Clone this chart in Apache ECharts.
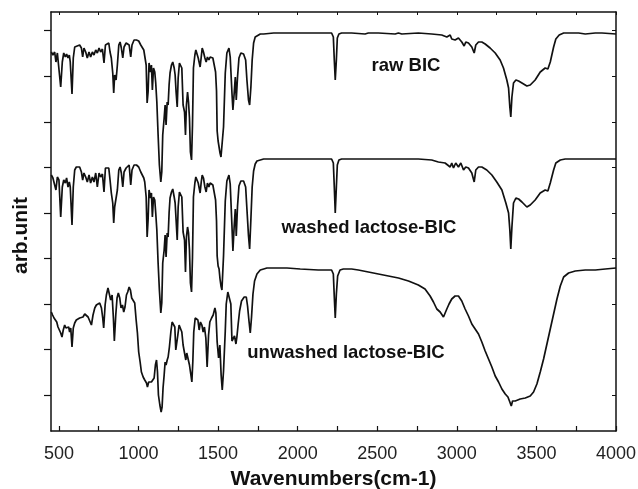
<!DOCTYPE html>
<html style="height: 100%">
<head>
    <meta charset="utf-8">
</head>
<body style="height: 100%; margin: 0; background: #fff">
<div id="container" style="width: 638px; height: 489px"></div>
<script type="text/javascript" src="https://cdn.jsdelivr.net/npm/echarts@6/dist/echarts.min.js"></script>
<script type="text/javascript">
    // wavenumber (cm-1), arb. intensity
    var rawBIC = [[452,379],[462,376],[473,379],[481,369],[490,378],[500,376],[511,344],[521,369],[530,378],[540,374],[548,377],[557,373],[565,376],[571,369],[582,337],[590,373],[599,384],[609,386],[630,386],[641,383],[649,374],[657,383],[668,379],[678,373],[689,379],[699,374],[710,379],[720,376],[731,381],[741,378],[752,383],[762,379],[773,382],[783,368],[792,386],[802,388],[813,388],[821,379],[829,373],[838,358],[844,338],[850,356],[859,351],[867,366],[876,386],[884,389],[892,383],[901,373],[909,384],[922,388],[930,389],[941,386],[951,374],[959,386],[972,391],[987,391],[1001,390],[1014,386],[1022,388],[1033,381],[1039,379],[1048,366],[1054,328],[1060,339],[1066,368],[1075,359],[1081,366],[1087,341],[1094,363],[1102,359],[1108,348],[1115,329],[1123,296],[1131,266],[1140,249],[1146,259],[1152,296],[1161,313],[1167,326],[1173,306],[1180,329],[1186,326],[1192,346],[1198,358],[1207,366],[1215,369],[1224,363],[1230,356],[1236,339],[1243,324],[1249,353],[1257,368],[1266,369],[1272,363],[1280,326],[1289,319],[1295,296],[1301,326],[1308,339],[1314,329],[1320,313],[1326,279],[1333,271],[1339,306],[1345,363],[1354,376],[1360,381],[1368,379],[1375,373],[1381,374],[1387,364],[1394,374],[1400,383],[1408,379],[1417,373],[1425,369],[1433,374],[1442,371],[1450,374],[1458,375],[1467,373],[1475,373],[1484,359],[1490,340],[1494,300],[1500,290],[1506,288],[1512,278],[1518,274],[1524,274],[1534,304],[1545,358],[1555,378],[1568,383],[1576,374],[1587,338],[1593,321],[1601,338],[1608,354],[1614,331],[1622,354],[1631,373],[1643,378],[1660,377],[1673,371],[1681,351],[1691,331],[1698,326],[1706,344],[1714,371],[1723,388],[1733,394],[1744,396],[1765,397],[1786,397],[1849,398],[1912,398],[1922,397],[1933,398],[1954,398],[2016,398],[2079,398],[2129,398],[2213,398],[2224,394],[2230,371],[2236,351],[2243,371],[2249,393],[2259,397],[2276,398],[2339,398],[2423,397],[2444,398],[2507,398],[2612,397],[2633,398],[2654,397],[2758,398],[2842,397],[2905,396],[2937,394],[2958,396],[2968,392],[2979,394],[2989,391],[3010,393],[3031,389],[3046,385],[3056,389],[3073,388],[3094,384],[3109,378],[3119,386],[3136,389],[3157,389],[3178,387],[3209,383],[3241,378],[3272,371],[3293,363],[3314,351],[3325,343],[3333,324],[3339,314],[3346,334],[3356,348],[3371,351],[3388,350],[3409,348],[3440,345],[3461,346],[3492,351],[3524,359],[3555,363],[3572,362],[3587,369],[3608,384],[3622,392],[3643,396],[3671,398],[3723,398],[3765,398],[3807,397],[3870,398],[3912,398],[4000,397]];

    var washedBIC = [[452,256],[462,253],[473,255],[481,241],[490,254],[500,251],[511,214],[521,244],[530,251],[540,248],[548,253],[557,244],[565,249],[571,244],[582,206],[590,244],[599,261],[609,264],[630,264],[641,259],[649,251],[657,258],[668,254],[678,249],[689,256],[699,248],[710,254],[720,249],[731,258],[741,244],[752,258],[762,254],[773,257],[783,239],[792,263],[802,265],[813,263],[821,251],[829,238],[838,228],[844,208],[850,224],[859,223],[867,241],[876,261],[884,264],[892,258],[901,244],[909,259],[922,263],[930,264],[941,266],[951,246],[959,261],[972,266],[987,266],[1001,264],[1014,259],[1022,261],[1033,253],[1039,249],[1048,234],[1054,194],[1060,211],[1066,241],[1075,233],[1081,238],[1087,214],[1094,234],[1102,231],[1108,218],[1115,201],[1123,168],[1131,141],[1140,118],[1146,128],[1152,168],[1161,181],[1167,196],[1173,174],[1180,198],[1186,194],[1192,218],[1198,233],[1207,239],[1215,242],[1224,234],[1230,228],[1236,211],[1243,191],[1249,224],[1257,239],[1266,241],[1272,234],[1280,199],[1289,191],[1295,159],[1301,194],[1308,204],[1314,198],[1320,181],[1326,148],[1333,139],[1339,174],[1345,234],[1354,248],[1360,254],[1368,254],[1375,248],[1381,249],[1387,238],[1394,249],[1400,256],[1408,253],[1417,244],[1425,239],[1433,248],[1442,244],[1450,248],[1458,249],[1467,246],[1475,246],[1484,231],[1490,210],[1494,175],[1500,165],[1506,162],[1512,152],[1518,145],[1524,141],[1534,175],[1545,230],[1555,250],[1568,256],[1576,247],[1587,205],[1593,180],[1601,205],[1608,222],[1614,195],[1622,225],[1631,245],[1643,250],[1660,250],[1673,244],[1681,222],[1691,195],[1698,182],[1706,212],[1714,244],[1723,260],[1733,267],[1744,270],[1765,271],[1786,272],[1849,272],[1912,272],[1922,270],[1933,272],[2016,272],[2129,272],[2213,272],[2224,268],[2230,244],[2236,218],[2243,244],[2249,266],[2259,271],[2276,272],[2381,272],[2549,272],[2758,272],[2842,271],[2884,269],[2926,268],[2958,264],[2968,268],[2979,263],[2993,268],[3010,264],[3025,268],[3042,261],[3056,264],[3073,263],[3094,258],[3109,249],[3119,261],[3136,264],[3157,264],[3188,261],[3220,256],[3251,249],[3283,241],[3308,228],[3325,218],[3333,201],[3339,182],[3346,204],[3356,228],[3371,233],[3388,232],[3409,229],[3440,224],[3461,226],[3492,231],[3524,238],[3555,241],[3572,240],[3587,248],[3608,261],[3622,268],[3650,271],[3681,272],[3765,272],[3849,272],[3912,272],[4000,272]];

    var unwashedBIC = [[452,119],[460,116],[469,113],[477,114],[486,109],[494,104],[502,106],[511,98],[519,94],[527,101],[536,106],[544,103],[553,101],[561,104],[567,99],[574,103],[582,84],[590,103],[599,108],[609,111],[620,113],[630,113],[641,112],[651,114],[662,117],[672,116],[683,114],[693,113],[704,106],[714,116],[725,123],[735,126],[746,124],[756,128],[767,123],[775,113],[781,103],[790,126],[798,136],[808,143],[819,141],[825,131],[834,136],[842,113],[848,90],[857,116],[865,133],[873,138],[882,133],[890,123],[899,126],[907,119],[915,124],[924,136],[932,139],[941,144],[949,141],[957,133],[968,131],[976,128],[985,111],[993,98],[1001,79],[1010,69],[1018,59],[1029,54],[1039,51],[1050,48],[1056,44],[1064,49],[1073,48],[1081,49],[1089,48],[1098,53],[1106,66],[1113,71],[1119,59],[1125,36],[1134,26],[1142,19],[1148,24],[1154,43],[1161,56],[1167,69],[1173,66],[1180,71],[1186,74],[1194,84],[1203,99],[1211,109],[1219,111],[1228,104],[1234,81],[1240,79],[1247,96],[1255,106],[1263,108],[1272,99],[1280,86],[1289,78],[1297,71],[1303,78],[1312,76],[1320,66],[1329,56],[1335,49],[1341,69],[1347,99],[1356,113],[1364,114],[1373,111],[1381,101],[1389,109],[1398,106],[1406,99],[1414,104],[1423,93],[1431,64],[1440,96],[1448,109],[1459,113],[1469,116],[1480,123],[1486,118],[1494,89],[1503,73],[1511,86],[1519,56],[1526,41],[1534,60],[1545,100],[1551,127],[1561,139],[1572,140],[1580,127],[1587,90],[1595,88],[1603,95],[1612,87],[1618,94],[1626,107],[1635,120],[1647,130],[1664,134],[1677,134],[1685,125],[1694,110],[1702,98],[1710,114],[1719,137],[1729,150],[1744,157],[1765,161],[1786,162],[1807,163],[1870,163],[1912,163],[1922,161],[1933,163],[2016,162],[2129,161],[2213,161],[2224,157],[2230,134],[2236,113],[2243,137],[2251,155],[2266,161],[2287,162],[2339,162],[2381,161],[2444,159],[2507,157],[2570,155],[2633,153],[2696,150],[2758,146],[2800,142],[2832,135],[2853,129],[2874,122],[2895,119],[2916,114],[2926,115],[2937,122],[2951,127],[2968,132],[2989,135],[3010,135],[3031,130],[3052,122],[3073,115],[3094,107],[3115,102],[3136,97],[3157,89],[3178,80],[3199,72],[3220,64],[3241,55],[3262,49],[3283,42],[3304,37],[3321,34],[3333,29],[3342,25],[3350,30],[3367,30],[3398,32],[3430,33],[3461,35],[3482,39],[3503,47],[3524,59],[3545,72],[3566,87],[3587,102],[3608,117],[3629,132],[3650,145],[3671,154],[3702,158],[3744,160],[3807,161],[3870,161],[3933,162],[4000,163]];

    var xTicks = [500, 750, 1000, 1250, 1500, 1750, 2000, 2250, 2500, 2750, 3000, 3250, 3500, 3750, 4000];
    var xLabels = [500, 1000, 1500, 2000, 2500, 3000, 3500, 4000];
    var yTicks = [36, 82, 127, 173, 218, 264, 309, 355, 401];

    var font = '"Liberation Sans", Arial, sans-serif';
    var dom = document.getElementById("container");
    var myChart = echarts.init(dom);

    function line(name, data) {
        return {
            name: name,
            type: 'line',
            data: data,
            showSymbol: false,
            symbol: 'none',
            lineStyle: {color: '#111', width: 1.7},
            silent: true
        };
    }

    var option = {
        animation: false,
        backgroundColor: '#fff',
        grid: {left: 51, right: 22, top: 12, bottom: 58, outerBoundsMode: 'none', containLabel: false},
        xAxis: [{
            type: 'value',
            min: 450,
            max: 4000,
            position: 'bottom',
            name: 'Wavenumbers(cm-1)',
            nameLocation: 'middle',
            nameGap: 38,
            nameTextStyle: {fontFamily: font, fontSize: 21, fontWeight: 'bold', color: '#111'},
            axisLine: {onZero: false, lineStyle: {color: '#111', width: 1.5}},
            axisTick: {inside: true, length: 5, customValues: xTicks, lineStyle: {color: '#111', width: 1.2}},
            axisLabel: {
                customValues: xLabels, margin: 14, fontFamily: font, fontSize: 18, color: '#222',
                formatter: function (v) { return String(v); }
            },
            splitLine: {show: false}
        }, {
            type: 'value',
            min: 450,
            max: 4000,
            position: 'top',
            axisLine: {onZero: false, lineStyle: {color: '#111', width: 1.5}},
            axisTick: {inside: true, length: 3, customValues: xTicks, lineStyle: {color: '#111', width: 1}},
            axisLabel: {show: false},
            splitLine: {show: false}
        }],
        yAxis: [{
            type: 'value',
            min: 0,
            max: 419,
            position: 'left',
            axisLine: {show: true, onZero: false, lineStyle: {color: '#111', width: 1.5}},
            axisTick: {show: true, inside: false, length: 7, customValues: yTicks, lineStyle: {color: '#111', width: 1.2}},
            axisLabel: {show: false},
            splitLine: {show: false}
        }, {
            type: 'value',
            min: 0,
            max: 419,
            position: 'right',
            axisLine: {show: true, onZero: false, lineStyle: {color: '#111', width: 1.5}},
            axisTick: {show: true, inside: true, length: 4, customValues: yTicks, lineStyle: {color: '#111', width: 1}},
            axisLabel: {show: false},
            splitLine: {show: false}
        }],
        graphic: [
            {type: 'text', x: 21.5, y: 235.5, rotation: Math.PI / 2,
                style: {text: 'arb.unit', font: 'bold 21px ' + font, fill: '#111', textAlign: 'center', textVerticalAlign: 'middle'}},
            {type: 'text', x: 406, y: 66,
                style: {text: 'raw BIC', font: 'bold 18.5px ' + font, fill: '#111', textAlign: 'center', textVerticalAlign: 'middle'}},
            {type: 'text', x: 369, y: 228,
                style: {text: 'washed lactose-BIC', font: 'bold 18.5px ' + font, fill: '#111', textAlign: 'center', textVerticalAlign: 'middle'}},
            {type: 'text', x: 346, y: 353,
                style: {text: 'unwashed lactose-BIC', font: 'bold 18.5px ' + font, fill: '#111', textAlign: 'center', textVerticalAlign: 'middle'}}
        ],
        series: [
            line('raw BIC', rawBIC),
            line('washed lactose-BIC', washedBIC),
            line('unwashed lactose-BIC', unwashedBIC)
        ]
    };

    myChart.setOption(option, true);
</script>
</body>
</html>
